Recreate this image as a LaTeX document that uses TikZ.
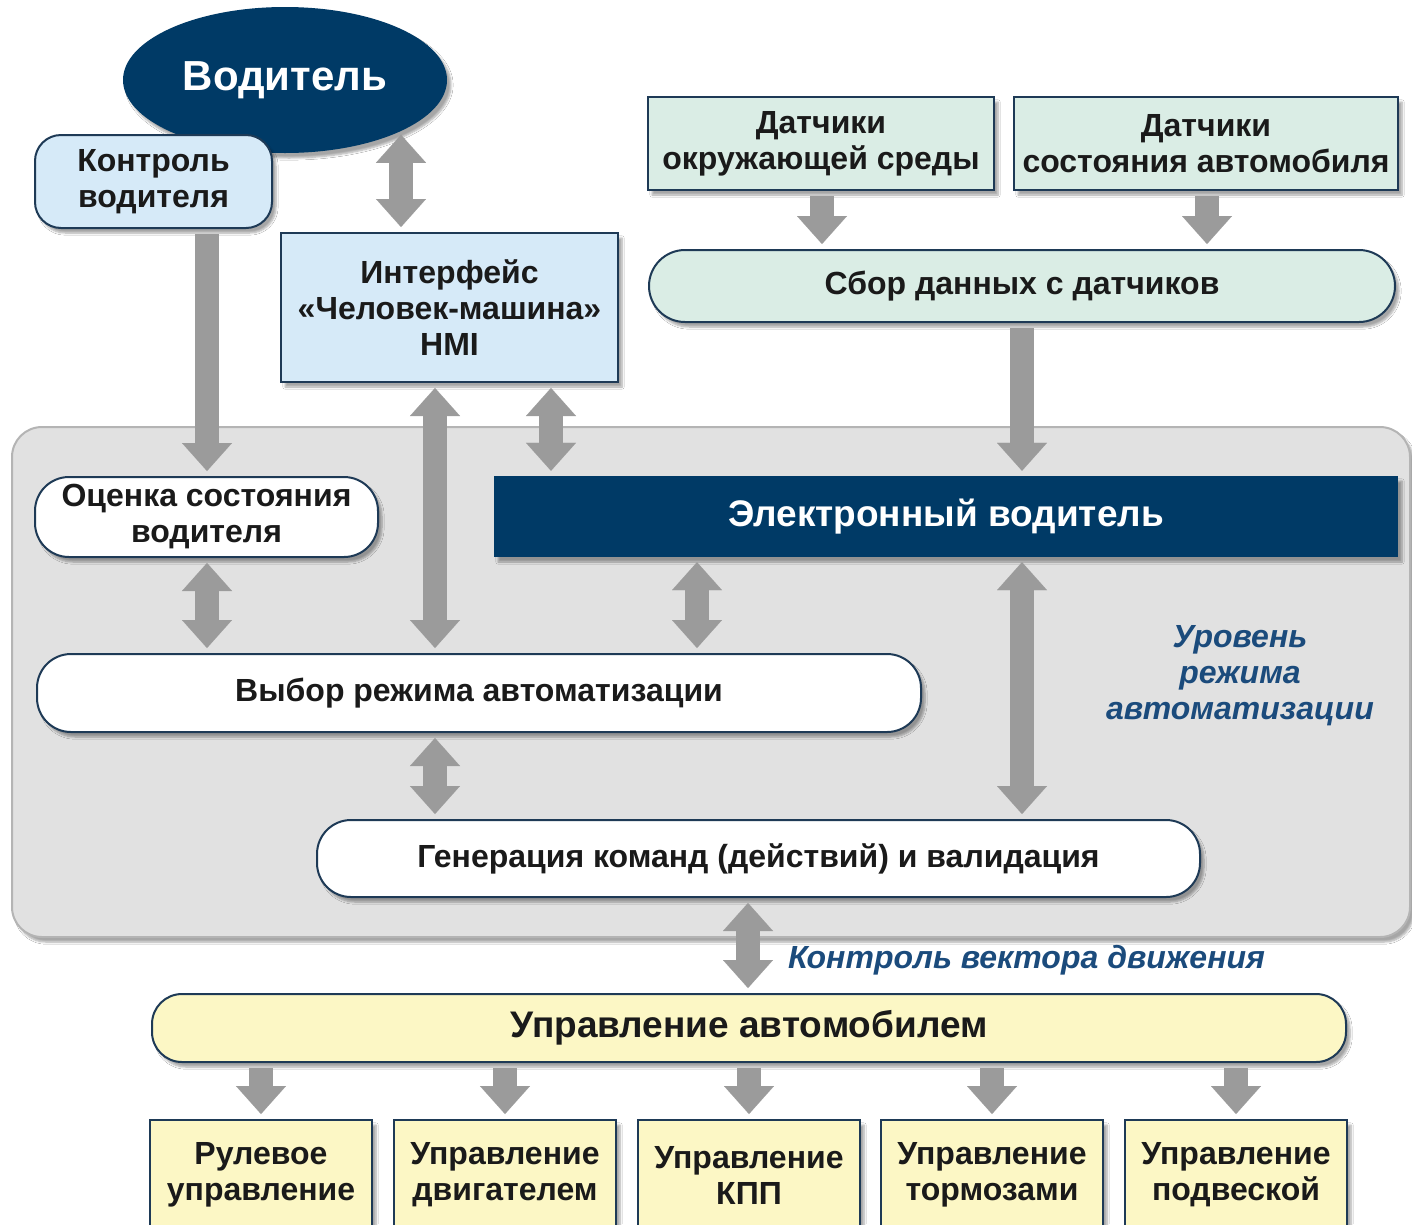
\documentclass[tikz,border=0pt]{standalone}
\usepackage{fontspec}
\setmainfont{Liberation Sans}
\usetikzlibrary{arrows.meta,shapes.geometric,shadows.blur}
\definecolor{navy}{HTML}{003A66}
\definecolor{ltblue}{HTML}{D6EAF8}
\definecolor{mint}{HTML}{DAEDE5}
\definecolor{ylw}{HTML}{FCF7C5}
\definecolor{panelgray}{HTML}{E1E1E1}
\definecolor{paneledge}{HTML}{B4B4B4}
\definecolor{arrowgray}{HTML}{9B9B9B}
\definecolor{edge}{HTML}{1E3A56}
\definecolor{lblblue}{HTML}{1B4B7C}
\definecolor{txt}{HTML}{1A1A1A}
\begin{document}
\begin{tikzpicture}[x=1pt,y=-1pt,
  every node/.style={font=\bfseries\fontsize{32}{36}\selectfont, text=txt, align=center, inner sep=0pt},
  sh/.style={blur shadow={shadow xshift=4pt,shadow yshift=-5pt,shadow opacity=35,shadow blur steps=6}},
  boxed/.style={draw=edge, line width=2pt, sh},
  bluebox/.style={boxed, fill=ltblue},
  mintbox/.style={boxed, fill=mint},
  ylwbox/.style={boxed, fill=ylw},
  whitebox/.style={boxed, fill=white},
  navybox/.style={fill=navy, text=white, sh},
  lbl/.style={font=\bfseries\itshape\fontsize{32}{36}\selectfont, text=lblblue},
  bigtext/.style={font=\bfseries\fontsize{37}{42}\selectfont},
  fat/.style={draw=arrowgray, line width=24pt, shorten <=5pt, shorten >=5pt,
     -{Triangle[width=50pt,length=28pt,line width=0.1pt]}},
  fatboth/.style={draw=arrowgray, line width=24pt, shorten <=5pt, shorten >=5pt,
     {Triangle[width=50pt,length=28pt,line width=0.1pt]}-{Triangle[width=50pt,length=28pt,line width=0.1pt]}}
]
\useasboundingbox (0,0) rectangle (1412,1224);
\clip (0,0) rectangle (1412,1224);
\fill[white] (0,0) rectangle (1412,1224);

% panel
\draw[fill=panelgray, draw=paneledge, line width=2pt, rounded corners=30pt, sh] (12,427) rectangle (1410,937);

% top
\node[ellipse, fill=navy, minimum width=324pt, minimum height=146pt, sh,
      text=white, font=\bfseries\fontsize{42}{48}\selectfont] (drv) at (285,80) {Водитель};
\node[bluebox, rounded corners=26pt, minimum width=237pt, minimum height=93pt] (kv) at (153.5,181.5) {Контроль\\водителя};
\node[bluebox, minimum width=337pt, minimum height=149pt] (hmi) at (449.5,307.5) {Интерфейс\\«Человек-машина»\\HMI};
\node[mintbox, minimum width=346pt, minimum height=93pt] (sen1) at (821,143.5) {Датчики\\окружающей среды};
\node[mintbox, minimum width=384pt, minimum height=93pt] (sen2) at (1206,143.5) {Датчики\\состояния автомобиля};
\node[mintbox, rounded corners=36pt, minimum width=746pt, minimum height=72pt] (sbor) at (1022,286) {Сбор данных с датчиков};

% inside panel
\node[whitebox, rounded corners=34pt, minimum width=343pt, minimum height=80pt] (oc) at (206.5,517) {Оценка состояния\\водителя};
\node[navybox, bigtext, minimum width=904pt, minimum height=81pt] (edrv) at (946,516.5) {Электронный водитель};
\node[whitebox, rounded corners=34pt, minimum width=884pt, minimum height=78pt] (vyb) at (479,693) {Выбор режима автоматизации};
\node[whitebox, rounded corners=34pt, minimum width=883pt, minimum height=77pt] (gen) at (758.5,858.5) {Генерация команд (действий) и валидация};
\node[lbl] (lvl) at (1240,676) {Уровень\\режима\\автоматизации};

% bottom
\node[ylwbox, bigtext, rounded corners=30pt, minimum width=1194pt, minimum height=68pt] (upr) at (749,1028) {Управление автомобилем};
\node[lbl, anchor=west] (vec) at (788,960) {Контроль вектора движения};
\node[ylwbox, minimum width=222pt, minimum height=110pt] (b1) at (261,1175) {Рулевое\\управление};
\node[ylwbox, minimum width=222pt, minimum height=110pt] (b2) at (505,1175) {Управление\\двигателем};
\node[ylwbox, minimum width=222pt, minimum height=110pt] (b3) at (749,1175) {Управление\\КПП};
\node[ylwbox, minimum width=222pt, minimum height=110pt] (b4) at (992,1175) {Управление\\тормозами};
\node[ylwbox, minimum width=222pt, minimum height=110pt] (b5) at (1236,1175) {Управление\\подвеской};

% arrow columns
\coordinate (c207) at (207,0);
\coordinate (c401) at (401,0);
\coordinate (c435) at (435,0);
\coordinate (c551) at (551,0);
\coordinate (c697) at (697,0);
\coordinate (c822) at (822,0);
\coordinate (c1022) at (1022,0);
\coordinate (c1207) at (1207,0);
\coordinate (c748) at (748,0);

% arrows
\draw[fatboth, shorten <=0pt] (drv.-27 -| c401) -- (hmi.north -| c401);
\draw[fat] (kv.south -| c207) -- (oc.north -| c207);
\draw[fat] (sen1.south -| c822) -- (sbor.north -| c822);
\draw[fat] (sen2.south -| c1207) -- (sbor.north -| c1207);
\draw[fat] (sbor.south -| c1022) -- (edrv.north -| c1022);
\draw[fatboth] (hmi.south -| c435) -- (vyb.north -| c435);
\draw[fatboth] (hmi.south -| c551) -- (edrv.north -| c551);
\draw[fatboth] (oc.south -| c207) -- (vyb.north -| c207);
\draw[fatboth] (edrv.south -| c697) -- (vyb.north -| c697);
\draw[fatboth] (edrv.south -| c1022) -- (gen.north -| c1022);
\draw[fatboth] (vyb.south -| c435) -- (gen.north -| c435);
\draw[fatboth] (gen.south -| c748) -- (upr.north -| c748);
\draw[fat] (upr.south -| b1.north) -- (b1.north);
\draw[fat] (upr.south -| b2.north) -- (b2.north);
\draw[fat] (upr.south -| b3.north) -- (b3.north);
\draw[fat] (upr.south -| b4.north) -- (b4.north);
\draw[fat] (upr.south -| b5.north) -- (b5.north);
\end{tikzpicture}
\end{document}
